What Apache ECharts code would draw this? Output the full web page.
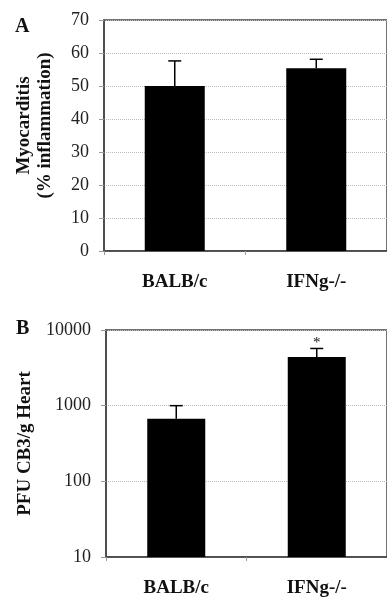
<!DOCTYPE html>
<html>
<head>
<meta charset="utf-8">
<script src="https://cdn.jsdelivr.net/npm/echarts@6/dist/echarts.min.js"></script>
<style>html,body{margin:0;padding:0;background:#fff;}#c{width:387px;height:598px;}</style>
</head>
<body>
<div id="c"></div>
<script>
var categories = ['BALB/c', 'IFNg-/-'];
var myoMean = [50, 55.4];
var myoUpper = [57.6, 58.1];
var myoTicks = [0, 10, 20, 30, 40, 50, 60, 70];
var pfuMean = [670, 4400];
var pfuUpper = [1000, 5700];
var pfuTicks = [10, 100, 1000, 10000];
var sigMarks = ['', '*'];
var panelLetters = ['A', 'B'];

var FONT = 'Liberation Serif';
var chart = echarts.init(document.getElementById('c'));

function errData(mean, upper, marks) {
  return mean.map(function (m, i) { return [i, upper[i], m, marks ? marks[i] : '']; });
}
function errRender(params, api) {
  var i = api.value(0);
  var top = api.coord([i, api.value(1)]);
  var base = api.coord([i, api.value(2)]);
  var mark = api.value(3);
  var children = [
    { type: 'line', shape: { x1: top[0], y1: base[1], x2: top[0], y2: top[1] }, style: { stroke: '#000', lineWidth: 1.5 } },
    { type: 'line', shape: { x1: top[0] - 6.5, y1: top[1], x2: top[0] + 6.5, y2: top[1] }, style: { stroke: '#000', lineWidth: 1.5 } }
  ];
  if (mark) {
    children.push({ type: 'text', style: { text: mark, x: top[0], y: top[1] - 5, align: 'center', verticalAlign: 'middle', font: '15px ' + FONT, fill: '#111' } });
  }
  return { type: 'group', children: children };
}

var catLabel = { fontFamily: FONT, fontWeight: 'bold', fontSize: 19, color: '#111', margin: 22 };
var valLabel = { fontFamily: FONT, fontSize: 18, color: '#222', margin: 15 };
var split = { show: true, lineStyle: { type: 'dotted', color: '#bbb', width: 1 } };

chart.setOption({
  animation: false,
  title: [
    { text: panelLetters[0], left: 10, top: 12, textStyle: { fontFamily: FONT, fontWeight: 'bold', fontSize: 20, color: '#111' } },
    { text: panelLetters[1], left: 11, top: 314, textStyle: { fontFamily: FONT, fontWeight: 'bold', fontSize: 20, color: '#111' } }
  ],
  grid: [
    { left: 104, top: 20, right: -3, bottom: 347, show: true, borderColor: '#444', borderWidth: 1.5 },
    { left: 106, top: 330, right: -5, bottom: 38, show: true, borderColor: '#444', borderWidth: 1.5 }
  ],
  xAxis: [
    { type: 'category', gridIndex: 0, data: categories, axisLine: { lineStyle: { color: '#444', width: 1.5 } }, axisTick: { show: true, length: 4, lineStyle: { color: '#999' } }, axisLabel: catLabel },
    { type: 'category', gridIndex: 1, data: categories, axisLine: { lineStyle: { color: '#444', width: 1.5 } }, axisTick: { show: true, length: 4, lineStyle: { color: '#999' } }, axisLabel: catLabel }
  ],
  yAxis: [
    { type: 'value', gridIndex: 0, min: myoTicks[0], max: myoTicks[myoTicks.length - 1], interval: 10,
      name: 'Myocarditis\n(% inflammation)', nameLocation: 'middle', nameRotate: 90, nameGap: 48,
      nameTextStyle: { fontFamily: FONT, fontWeight: 'bold', fontSize: 19, color: '#111', lineHeight: 21, padding: [0, 0, 0, 20] },
      axisLine: { show: true, lineStyle: { color: '#444', width: 1.5 } }, axisTick: { show: true, length: 5, lineStyle: { color: '#999' } },
      axisLabel: valLabel, splitLine: split },
    { type: 'log', gridIndex: 1, logBase: 10, min: pfuTicks[0], max: pfuTicks[pfuTicks.length - 1],
      name: 'PFU CB3/g Heart', nameLocation: 'middle', nameRotate: 90, nameGap: 66,
      nameTextStyle: { fontFamily: FONT, fontWeight: 'bold', fontSize: 19, color: '#111', lineHeight: 21 },
      axisLine: { show: true, lineStyle: { color: '#444', width: 1.5 } }, axisTick: { show: true, length: 5, lineStyle: { color: '#999' } },
      axisLabel: Object.assign({}, valLabel, { formatter: function (v) { return String(Math.round(v)); } }), splitLine: split }
  ],
  series: [
    { type: 'bar', xAxisIndex: 0, yAxisIndex: 0, data: myoMean, barWidth: 60, itemStyle: { color: '#000' } },
    { type: 'custom', xAxisIndex: 0, yAxisIndex: 0, data: errData(myoMean, myoUpper, null), renderItem: errRender, z: 3 },
    { type: 'bar', xAxisIndex: 1, yAxisIndex: 1, data: pfuMean, barWidth: 58, itemStyle: { color: '#000' } },
    { type: 'custom', xAxisIndex: 1, yAxisIndex: 1, data: errData(pfuMean, pfuUpper, sigMarks), renderItem: errRender, z: 3 }
  ]
});
</script>
</body>
</html>
